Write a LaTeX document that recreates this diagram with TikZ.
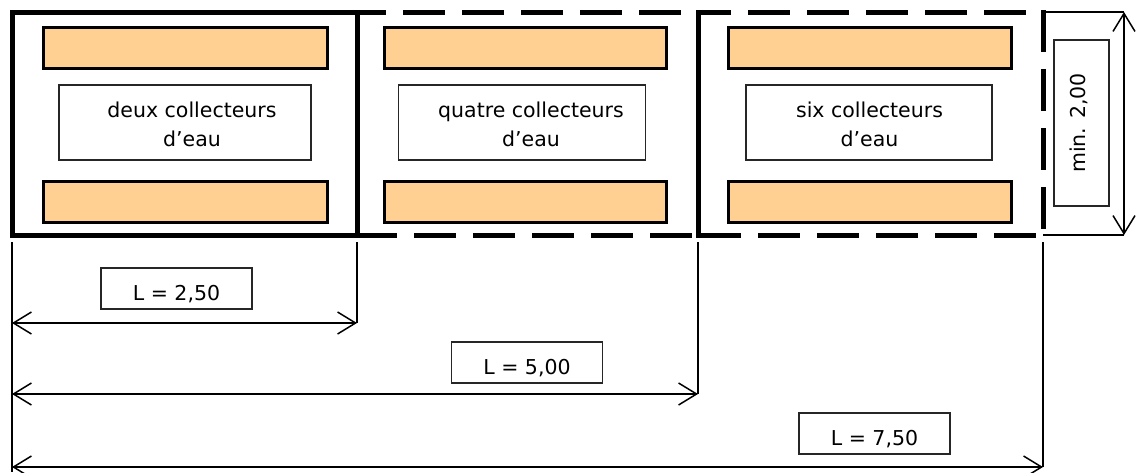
\documentclass[tikz,border=0pt]{standalone}
\usepackage{fontspec}
\setmainfont{DejaVu Sans}
\usetikzlibrary{arrows.meta}
\definecolor{barfill}{HTML}{FFD091}
\tikzset{
  thickline/.style={line width=5pt, line cap=rect},
  dashline/.style={line width=5pt, dash pattern=on 42pt off 17pt},
  bar/.style={draw, fill=barfill, line width=3pt, minimum width=284pt, minimum height=41pt, inner sep=0pt},
  txtbox/.style={draw=black!85, line width=1.1pt, minimum width=252pt, minimum height=75pt, inner sep=0pt},
  txt/.style={font=\fontsize{20.5}{29}\selectfont, align=center, inner sep=0pt},
  dimbox/.style={draw=black!85, line width=1.1pt, minimum width=151pt, inner sep=0pt,
                 text height=32pt, text depth=9pt, font=\fontsize{20.5}{24}\selectfont},
  tip/.tip={Straight Barb[length=18pt,width=22pt]},
  dimline/.style={line width=1.5pt, tip-tip},
  extline/.style={line width=1.5pt},
}
\begin{document}
\begin{tikzpicture}[x=1pt,y=-1pt]
\useasboundingbox (0,0) rectangle (1138,472);

% frame corners
\coordinate (A) at (12,12);
\coordinate (B) at (357,235);
\coordinate (C) at (698,12);
\coordinate (D) at (698,235);
\coordinate (E) at (1043,12);
\coordinate (F) at (1043,235);

% box 1 (solid)
\draw[thickline] (A) rectangle (B);
% box 2 (dashed top and bottom)
\draw[dashline] (344,12) -- (C);
\draw[dashline] (355,235) -- (D);
% box 3
\draw[dashline, dash phase=9pt] (C) -- (E);
\draw[dashline] (1043,10) -- (F);
\draw[dashline] (699,235) -- (F);
\draw[thickline] (C) -- (D);

% bars
\node[bar] (b1t) at (185,47.5) {};
\node[bar] (b1b) at (185,201.5) {};
\node[bar, minimum width=282pt] (b2t) at (525,47.5) {};
\node[bar, minimum width=282pt] (b2b) at (525,201.5) {};
\node[bar, minimum width=283pt] (b3t) at (869.5,47.5) {};
\node[bar, minimum width=283pt] (b3b) at (869.5,201.5) {};

% text boxes
\node[txtbox] (t1) at (185,122.5) {};
\node[txtbox, minimum width=247pt] (t2) at (521.7,122.5) {};
\node[txtbox, minimum width=246pt] (t3) at (869,122.5) {};
\node[txt] (l1) at (192,124) {deux collecteurs\\d’eau};
\node[txt] (l2) at (531,124) {quatre collecteurs\\d’eau};
\node[txt] (l3) at (869.5,124) {six collecteurs\\d’eau};

% vertical dimension
\coordinate (V1) at (1124,12);
\coordinate (V2) at (1124,235);
\draw[extline] (E) -- (V1);
\draw[extline] (F) -- (V2);
\draw[dimline] (V1) -- (V2);
\node[dimbox, rotate=90, minimum width=166pt, text height=31pt, text depth=24pt] (m) at (1081.5,123) {min. 2,00};

% horizontal dimensions
\coordinate (e0a) at (12,242);  \coordinate (e0b) at (12,472);
\coordinate (e1a) at (357,242); \coordinate (e1b) at (357,323);
\coordinate (e2a) at (698,242); \coordinate (e2b) at (698,394);
\coordinate (e3a) at (1043,242); \coordinate (e3b) at (1043,467);
\draw[extline] (e0a) -- (e0b);
\draw[extline] (e1a) -- (e1b);
\draw[extline] (e2a) -- (e2b);
\draw[extline] (e3a) -- (e3b);
\coordinate (d1) at (12,323);
\coordinate (d2) at (12,394);
\coordinate (d3) at (12,467);
\draw[dimline] (d1) -- (e1b);
\draw[dimline] (d2) -- (e2b);
\draw[dimline] (d3) -- (e3b);

\node[dimbox] (L1) at (176.5,288.5) {L = 2,50};
\node[dimbox] (L2) at (527,362.5) {L = 5,00};
\node[dimbox] (L3) at (874.5,433.5) {L = 7,50};
\end{tikzpicture}
\end{document}
